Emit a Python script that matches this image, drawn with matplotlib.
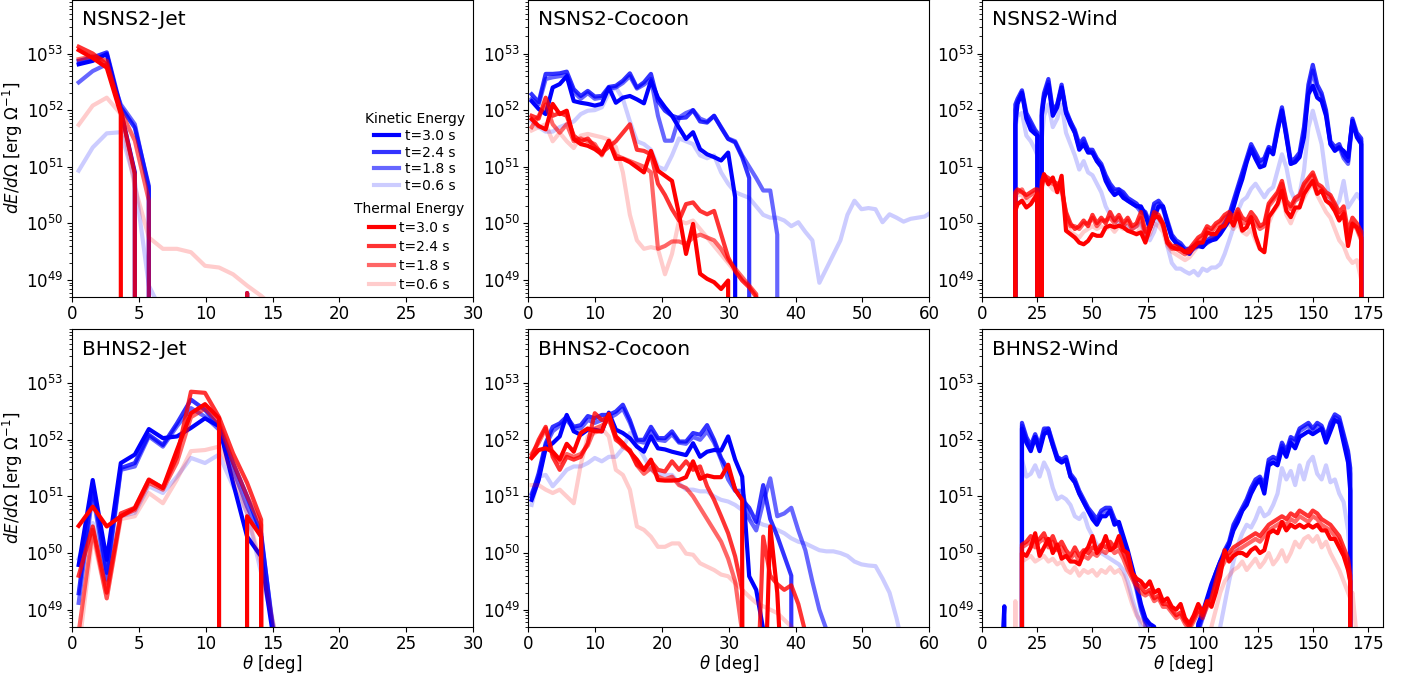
import numpy as np
import matplotlib
matplotlib.use('Agg')
import matplotlib.pyplot as plt

Z = -np.inf  # empty bin (no energy), drops off the log axis

times = [3.0, 2.4, 1.8, 0.6]

# angle grids [deg]
theta_bins = np.round(0.5 + 1.05 * np.arange(58), 2)
theta_wind_ns = np.array([14, 15, 16, 18, 20, 22, 24, 25, 26, 27] + list(range(28, 173, 2)) + [173])
theta_wind_bh = np.array([8, 10, 12, 15, 17] + list(range(18, 167, 2)) + [167, 168, 170])

# log10(dE/dOmega), t = 3.0, 2.4, 1.8, 0.6 s
ns_jet_kin_30 = [52.81, 52.87, 52.99, 51.99, 50.9, Z]
ns_jet_kin_24 = [52.87, 52.93, 53.02, 52.05, 51.69, 50.66, Z, Z, Z, Z, Z, Z, 48.77, Z]
ns_jet_kin_18 = [52.49, 52.69, 52.81, 52.1, 51.75, 50.6, Z]
ns_jet_kin_06 = [50.93, 51.34, 51.59, 51.61, 50.75, 48.9, 48.4, Z]
ns_jet_th_30 = [53.06, 52.92, 52.75, 51.93, Z]
ns_jet_th_24 = [53.12, 53.0, 52.81, 51.99, 50.87, Z, Z, Z, Z, Z, Z, Z, 48.77, Z]
ns_jet_th_18 = [52.9, 52.95, 52.87, 51.99, 51.46, 50.4, Z]
ns_jet_th_06 = [51.74, 52.08, 52.22, 51.93, 50.64, 49.75, 49.55, 49.55, 49.49, 49.25, 49.22, 49.1, 48.9,
                48.72, 48.5, Z]

ns_coc_kin_30 = [52.16, 52.02, 51.93, 52.4, 52.46, 52.6, 52.16, 52.13, 52.11, 52.08, 52.11, 52.4, 52.13, 52.22,
                 52.25, 52.19, 52.12, 52.52, 52.22, 52.05, 51.9, 51.69, 51.49, 51.61, 51.31, 51.22, 51.17, 51.11,
                 51.25, 50.46, Z]
ns_coc_kin_24 = [52.28, 52.14, 52.64, 52.64, 52.65, 52.68, 52.37, 52.25, 52.34, 52.24, 52.25, 52.41, 52.43, 52.52,
                 52.65, 52.4, 52.49, 52.64, 52.16, 51.99, 51.9, 51.86, 51.87, 52.0, 51.8, 51.78, 51.9, 51.69,
                 51.49, 51.43, 51.17, 50.8, Z]
ns_coc_kin_18 = [52.2, 52.1, 52.55, 52.58, 52.6, 52.62, 52.32, 52.2, 52.3, 52.2, 52.22, 52.38, 52.4, 52.48, 52.6,
                 52.38, 52.45, 52.55, 51.9, 51.46, 51.46, 51.87, 51.95, 52.0, 51.85, 51.8, 51.9, 51.7, 51.5, 51.45,
                 51.2, 51.0, 50.8, 50.58, 50.58, 49.8, Z]
ns_coc_kin_06 = [51.8, 51.7, 51.62, 51.62, 51.7, 51.75, 51.8, 51.93, 51.99, 52.0, 52.05, 52.3, 52.4, 52.2, 51.8,
                 51.45, 51.4, 51.3, 51.0, 50.95, 51.2, 51.5, 51.45, 51.4, 51.2, 51.15, 51.2, 50.9, 50.7, 50.55,
                 50.5, 50.45, 50.3, 50.15, 50.1, 50.1, 50.05, 49.95, 50.02, 49.85, 49.7, 48.95, 49.2, 49.45, 49.7,
                 50.15, 50.4, 50.25, 50.27, 50.25, 50.02, 50.16, 50.1, 50.03, 50.08, 50.1, 50.12, 50.2]
ns_coc_th_30 = [51.84, 51.72, 51.66, 52.11, 51.93, 51.99, 51.49, 51.4, 51.37, 51.31, 51.22, 51.46, 51.14, 51.14,
                51.08, 50.99, 50.9, 51.28, 50.93, 50.84, 50.75, 50.16, 49.46, 49.99, 49.11, 49.02, 48.96, 48.84,
                48.99, Z]
ns_coc_th_24 = [51.9, 51.85, 52.22, 51.9, 51.95, 51.9, 51.55, 51.45, 51.5, 51.35, 51.25, 51.35, 51.45, 51.6, 51.75,
                51.3, 51.28, 51.22, 50.7, 50.5, 50.25, 50.05, 50.34, 50.37, 50.22, 50.16, 50.22, 49.81, 49.4, 49.16,
                48.99, 48.87, 48.7, Z]
ns_coc_th_18 = [51.7, 51.9, 52.1, 51.75, 51.6, 51.75, 51.45, 51.5, 51.45, 51.4, 51.2, 51.45, 51.2, 51.15, 51.1,
                51.05, 51.0, 50.9, 49.55, 49.6, 49.68, 49.68, 49.63, 49.75, 49.8, 49.75, 49.7, 49.55, 49.35, 49.2,
                49.05, 48.9, 48.75, Z]
ns_coc_th_06 = [51.64, 51.7, 51.75, 51.45, 51.6, 51.45, 51.33, 51.55, 51.58, 51.55, 51.52, 51.48, 51.35, 50.9,
                50.15, 49.7, 49.55, 49.58, 49.55, 49.1, 49.46, 50.05, 50.0, 50.05, 49.9, 49.75, 49.6, 49.45, 49.3,
                49.15, 49.0, 48.9, 48.75, Z]

ns_wind_kin_30 = [Z, 51.75, 52.11, 52.31, 51.85, 51.65, 51.58, 51.55, Z, 51.9,
                  52.2, 52.45, 51.9, 52.05, 52.4, 51.95, 51.75, 51.6, 51.3, 51.4, 51.25, 51.25, 51.1, 51.0, 50.75,
                  50.6, 50.5, 50.55,
                  50.45, 50.4, 50.35, 50.3, 50.3, 50.15, 49.9, 50.1, 50.3, 50.3, 50.0, 49.75, 49.65, 49.6, 49.5,
                  49.46, 49.58, 49.6,
                  49.58, 49.67, 49.7, 49.72, 49.81, 49.93, 50.05, 50.28, 50.55, 50.78, 51.08, 51.31, 51.14, 50.99,
                  51.02, 51.31, 51.22, 51.63,
                  51.99, 51.52, 51.05, 51.08, 51.17, 51.52, 52.28, 52.43, 52.22, 52.16, 51.9, 51.4, 51.28, 51.34,
                  51.28, 51.17, 51.81, 51.52, 51.4, Z]
ns_wind_kin_24 = [Z, 52.1, 52.2, 52.35, 51.95, 51.8, 51.65, 51.6, Z, 52.0,
                  52.3, 52.55, 52.0, 52.1, 52.45, 52.0, 51.8, 51.65, 51.4, 51.5, 51.3, 51.3, 51.15, 51.05, 50.85,
                  50.7, 50.6, 50.6,
                  50.55, 50.45, 50.4, 50.35, 50.25, 50.2, 50.0, 50.35, 50.4, 50.3, 50.05, 49.8, 49.7, 49.65, 49.55,
                  49.55, 49.6, 49.65,
                  49.65, 49.7, 49.75, 49.8, 49.9, 50.0, 50.15, 50.4, 50.65, 50.9, 51.15, 51.4, 51.25, 51.1, 51.15,
                  51.35, 51.3, 51.7,
                  52.05, 51.6, 51.1, 51.15, 51.25, 51.7, 52.45, 52.8, 52.45, 52.3, 52.0, 51.45, 51.35, 51.4, 51.2,
                  51.1, 51.85, 51.6, 51.5, Z]
ns_wind_kin_18 = [Z, 52.0, 52.15, 52.3, 51.9, 51.75, 51.6, 51.55, Z, 51.95,
                  52.25, 52.5, 51.95, 52.1, 52.4, 51.95, 51.8, 51.6, 51.35, 51.45, 51.3, 51.25, 51.1, 51.0, 50.8,
                  50.65, 50.55, 50.6,
                  50.5, 50.4, 50.35, 50.3, 50.2, 50.15, 49.95, 50.3, 50.35, 50.25, 50.0, 49.75, 49.65, 49.6, 49.5,
                  49.5, 49.55, 49.6,
                  49.6, 49.65, 49.7, 49.75, 49.85, 49.95, 50.1, 50.35, 50.6, 50.85, 51.1, 51.35, 51.2, 51.05, 51.1,
                  51.3, 51.25, 51.65,
                  52.0, 51.55, 51.05, 51.1, 51.2, 51.6, 52.35, 52.7, 52.35, 52.25, 51.95, 51.4, 51.3, 51.35, 51.15,
                  51.05, 51.8, 51.55, 51.45, Z]
ns_wind_kin_06 = [Z, 51.7, 51.9, 51.95, 51.55, 51.45, 51.3, 51.2, Z, 51.5,
                  51.9, 52.1, 51.7, 51.85, 52.1, 51.6, 51.4, 51.2, 50.95, 51.1, 50.9, 50.85, 50.7, 50.55, 50.3,
                  50.15, 50.05, 50.0,
                  49.95, 49.95, 49.9, 49.95, 50.0, 49.8, 49.7, 49.85, 50.1, 50.05, 49.6, 49.3, 49.2, 49.2, 49.15,
                  49.11, 49.16, 49.08,
                  49.2, 49.16, 49.22, 49.22, 49.28, 49.46, 49.69, 49.93, 50.22, 50.4, 50.46, 50.61, 50.7, 50.58,
                  50.46, 50.58, 50.64, 50.93,
                  51.22, 50.99, 50.58, 50.4, 50.52, 50.93, 51.69, 51.99, 51.69, 51.4, 50.81, 50.34, 50.28, 50.4,
                  50.75, 50.28, 50.4, 50.52, 50.4, Z]
ns_wind_th_30 = [Z, 50.22, 50.34, 50.4, 50.28, 50.34, 50.46, 50.52, Z, 50.64,
                 50.87, 50.69, 50.81, 50.55, 50.84, 49.87, 49.81, 49.75, 49.66, 49.63, 49.69, 49.81, 49.78, 49.78,
                 49.93, 49.96, 49.93, 49.96,
                 49.93, 49.87, 49.84, 49.81, 49.84, 49.66, 49.9, 50.11, 50.11, 49.99, 49.66, 49.58, 49.55, 49.55,
                 49.49, 49.49, 49.58, 49.66,
                 49.66, 49.84, 49.81, 49.81, 49.93, 49.96, 50.11, 49.96, 50.17, 49.87, 49.93, 50.11, 49.78, 49.55,
                 49.49, 50.11, 50.22, 50.34,
                 50.58, 50.22, 50.11, 50.28, 50.28, 50.52, 50.64, 50.75, 50.52, 50.58, 50.4, 50.34, 50.22, 50.05,
                 50.17, 49.6, 49.99, 49.93, 49.75, Z]
ns_wind_th_24 = [Z, 50.55, 50.6, 50.55, 50.5, 50.55, 50.6, 50.6, Z, 50.75,
                 50.85, 50.8, 50.75, 50.7, 50.6, 50.2, 50.0, 49.9, 49.95, 50.05, 49.95, 50.15, 50.0, 50.1, 50.0,
                 50.2, 50.05, 50.15,
                 50.0, 50.1, 49.95, 50.0, 50.2, 49.85, 49.95, 50.2, 50.15, 50.0, 49.7, 49.6, 49.6, 49.55, 49.5,
                 49.55, 49.65, 49.75,
                 49.8, 49.95, 49.9, 50.0, 50.05, 50.15, 50.2, 50.1, 50.25, 50.1, 50.05, 50.2, 50.1, 49.95, 50.0,
                 50.35, 50.45, 50.55,
                 50.75, 50.4, 50.3, 50.45, 50.5, 50.7, 50.8, 50.9, 50.7, 50.65, 50.55, 50.5, 50.35, 50.2, 50.3,
                 49.85, 50.1, 50.0, 49.85, Z]
ns_wind_th_18 = [Z, 50.5, 50.55, 50.6, 50.45, 50.5, 50.55, 50.55, Z, 50.7,
                 50.8, 50.75, 50.7, 50.65, 50.65, 50.15, 49.95, 49.95, 49.9, 50.0, 50.0, 50.1, 49.95, 50.05, 50.05,
                 50.1, 50.0, 50.1,
                 49.95, 50.05, 49.9, 49.95, 50.1, 49.8, 49.9, 50.15, 50.1, 49.95, 49.65, 49.55, 49.55, 49.5, 49.45,
                 49.5, 49.6, 49.7,
                 49.75, 49.9, 49.85, 49.95, 50.0, 50.1, 50.15, 50.05, 50.2, 50.0, 50.0, 50.1, 50.0, 49.9, 49.95,
                 50.3, 50.4, 50.5,
                 50.7, 50.35, 50.25, 50.4, 50.45, 50.65, 50.75, 50.85, 50.65, 50.6, 50.5, 50.45, 50.3, 50.1, 50.2,
                 49.75, 50.0, 49.9, 49.7, Z]
ns_wind_th_06 = [Z, 50.45, 50.5, 50.5, 50.4, 50.4, 50.45, 50.45, Z, 50.6,
                 50.75, 50.7, 50.6, 50.55, 50.55, 50.05, 49.85, 49.8, 49.75, 49.85, 49.9, 49.95, 49.9, 49.95, 49.9,
                 49.95, 49.85, 49.95,
                 49.9, 49.95, 49.85, 49.8, 49.95, 49.75, 49.8, 50.0, 49.95, 49.85, 49.6, 49.5, 49.45, 49.4, 49.35,
                 49.4, 49.5, 49.6,
                 49.7, 49.8, 49.75, 49.85, 49.9, 49.95, 50.0, 49.9, 50.0, 49.85, 49.8, 49.9, 49.7, 49.55, 49.5,
                 50.0, 50.2, 50.3,
                 50.5, 50.15, 50.0, 50.2, 50.3, 50.45, 50.6, 50.7, 50.5, 50.35, 50.2, 50.1, 49.9, 49.7, 49.6, 49.4,
                 49.3, 49.35, 49.0, Z]

bh_jet_kin_30 = [49.79, 51.29, 49.88, 51.59, 51.74, 52.19, 52.03, 52.06, 52.21, 52.38, 52.24, 51.24, 50.29, 49.94,
                 48.3, Z]
bh_jet_kin_24 = [49.29, 51.18, 49.65, 51.5, 51.59, 52.09, 51.91, 52.29, 52.71, 52.53, 52.24, 51.59, 51.0, 50.35,
                 48.3, Z]
bh_jet_kin_18 = [49.12, 51.06, 49.53, 51.47, 51.53, 52.06, 51.88, 52.24, 52.56, 52.41, 52.18, 51.47, 50.82, 50.29,
                 48.4, Z]
bh_jet_kin_06 = [49.9, 50.53, 49.47, 50.65, 50.71, 51.18, 51.06, 51.35, 51.68, 51.59, 51.74, 51.18, 50.71, 49.65,
                 48.6, Z]
bh_jet_th_30 = [50.48, 50.82, 50.47, 50.65, 50.79, 51.29, 51.15, 51.82, 52.47, 52.63, 52.38, Z, 50.65, 50.29, Z]
bh_jet_th_24 = [49.6, 50.47, 49.3, 50.7, 50.8, 51.3, 51.15, 51.7, 52.85, 52.83, 52.4, 51.76, 51.24, 50.59, Z]
bh_jet_th_18 = [48.6, 50.41, 49.2, 50.65, 50.76, 51.24, 51.12, 51.6, 52.4, 52.55, 52.3, 51.6, 51.0, 50.5, Z]
bh_jet_th_06 = [48.3, 50.3, 49.2, 50.6, 50.65, 51.06, 50.88, 51.3, 51.8, 51.82, 51.88, 51.4, 50.7, 49.8, 48.6, Z]

bh_coc_kin_30 = [50.94, 51.29, 51.85, 51.94, 52.06, 52.44, 52.15, 52.09, 52.18, 52.18, 52.15, 52.48, 52.18, 52.12,
                 52.03, 51.88, 51.79, 52.06, 51.85, 51.83, 51.79, 51.76, 51.73, 51.94, 51.7, 51.79, 51.82, 51.81,
                 52.06, 51.65, 51.35, 49.59, 49.35, 48.65, Z]
bh_coc_kin_24 = [51.0, 51.41, 51.94, 52.23, 52.29, 52.41, 52.23, 52.26, 52.42, 52.38, 52.44, 52.44, 52.5, 52.62,
                 52.35, 52.0, 52.0, 52.23, 52.03, 52.03, 52.15, 51.97, 51.97, 52.12, 52.09, 52.26, 52.0, 51.68,
                 51.47, 51.12, 50.94, 50.8, 50.55, 51.2, 50.6, 50.3, 49.95, 49.6, Z]
bh_coc_kin_18 = [51.05, 51.35, 51.9, 52.15, 52.25, 52.35, 52.2, 52.2, 52.35, 52.3, 52.35, 52.38, 52.45, 52.55, 52.3,
                 51.98, 51.95, 52.15, 52.0, 51.98, 52.1, 51.95, 51.93, 52.05, 52.0, 52.15, 51.95, 51.65, 51.3, 51.1,
                 51.1, 50.6, 50.4, 50.9, 51.32, 50.65, 50.7, 50.8, 50.4, 50.05, 49.5, 49.0, 48.65, Z]
bh_coc_kin_06 = [50.85, 51.35, 51.38, 51.18, 51.32, 51.47, 51.53, 51.53, 51.59, 51.68, 51.62, 51.7, 51.7, 51.85,
                 52.12, 51.91, 51.7, 51.47, 51.41, 51.38, 51.38, 51.23, 51.12, 51.12, 51.09, 51.09, 51.0, 50.94,
                 50.91, 50.85, 50.76, 50.62, 50.56, 50.5, 50.47, 50.41, 50.35, 50.26, 50.2, 50.17, 50.11, 50.05,
                 50.03, 50.03, 50.0, 49.95, 49.85, 49.8, 49.78, 49.77, 49.55, 49.3, 48.85, 48.3, Z]
bh_coc_th_30 = [51.68, 51.82, 51.85, 51.79, 51.65, 51.93, 51.79, 52.12, 52.2, 52.15, 52.15, 52.46, 52.06, 51.94,
                51.79, 51.65, 51.47, 51.65, 51.29, 51.28, 51.28, 51.29, 51.34, 51.62, 51.31, 51.37, 51.34, 51.34,
                51.56, 51.12, 50.94, Z, Z, 46.5, 50.47, 49.3, 47.0, Z]
bh_coc_th_24 = [51.7, 52.0, 52.23, 51.7, 51.47, 51.7, 51.65, 51.7, 51.94, 52.47, 52.35, 52.41, 52.0, 51.91, 51.82,
                51.56, 51.47, 51.62, 51.47, 51.44, 51.62, 51.47, 51.62, 51.47, 51.53, 51.18, 50.94, 50.65, 50.35,
                49.94, 49.35, Z, 47.0, 50.29, 49.6, 49.45, 49.35, 49.43, 49.1, 48.6, Z]
bh_coc_th_18 = [51.75, 51.95, 52.2, 51.75, 51.6, 51.75, 51.7, 51.75, 51.9, 52.2, 52.25, 52.35, 52.05, 51.88, 51.8,
                51.55, 51.4, 51.5, 51.35, 51.3, 51.35, 51.2, 51.15, 51.0, 50.8, 50.6, 50.4, 50.2, 49.9, 49.5, 48.6, Z]
bh_coc_th_06 = [51.2, 51.2, 51.12, 51.06, 51.12, 51.0, 50.88, 51.56, 52.06, 52.12, 52.2, 52.06, 51.47, 51.38, 51.12,
                50.47, 50.41, 50.29, 50.11, 50.11, 50.17, 50.17, 49.99, 49.97, 49.82, 49.76, 49.7, 49.62, 49.59,
                49.47, 49.35, 49.23, 49.12, 49.06, 49.0, 48.94, 48.82, 48.7, 48.59, Z]

bh_wind_kin_30 = [47.5, 49.06, Z, Z, Z,
                  52.2, 51.95, 51.8, 52.05, 51.8, 52.1, 52.15, 51.9, 51.65, 51.6, 51.65, 51.35, 51.25, 51.05, 50.9,
                  50.75, 50.6, 50.5,
                  50.65, 50.65, 50.75, 50.5, 50.55, 50.3, 50.05, 49.75, 49.45, 49.1, 48.85, 48.75, 48.7, Z, Z, Z,
                  Z, Z,
                  Z, Z, Z, 47.5, 48.75, 48.95, 49.2, 49.45, 49.65, 49.85, 50.0, 50.15, 50.4, 50.55, 50.75, 50.85,
                  51.05, 51.2,
                  51.3, 51.05, 51.55, 51.6, 51.55, 51.85, 51.7, 51.95, 51.85, 52.05, 52.1, 52.15, 52.1, 52.15,
                  52.2, 51.95, 52.15, 52.35, 52.3, 51.95, 51.6,
                  51.1, Z, Z]
bh_wind_kin_24 = [Z, Z, Z, Z, Z,
                  52.3, 52.05, 51.9, 52.1, 51.9, 52.2, 52.2, 51.95, 51.7, 51.65, 51.7, 51.4, 51.3, 51.1, 50.95,
                  50.8, 50.7, 50.6,
                  50.75, 50.8, 50.8, 50.6, 50.5, 50.25, 50.0, 49.7, 49.4, 49.05, 48.8, 48.65, Z, Z, Z, Z, Z, Z,
                  Z, Z, Z, Z, 48.65, 48.9, 49.15, 49.4, 49.65, 49.85, 50.05, 50.2, 50.5, 50.65, 50.8, 50.95, 51.15,
                  51.3,
                  51.35, 51.2, 51.65, 51.7, 51.65, 51.95, 51.8, 52.05, 52.0, 52.2, 52.25, 52.3, 52.2, 52.3, 52.25,
                  52.05, 52.3, 52.45, 52.4, 52.1, 51.8,
                  51.5, Z, Z]
bh_wind_kin_18 = [Z, Z, Z, Z, Z,
                  52.25, 52.0, 51.85, 52.05, 51.85, 52.15, 52.2, 51.9, 51.7, 51.6, 51.65, 51.35, 51.25, 51.05,
                  50.9, 50.75, 50.65, 50.55,
                  50.7, 50.75, 50.75, 50.55, 50.5, 50.2, 49.95, 49.65, 49.35, 49.0, 48.75, Z, Z, Z, Z, Z, Z, Z,
                  Z, Z, Z, Z, 48.6, 48.85, 49.1, 49.35, 49.6, 49.8, 50.0, 50.15, 50.45, 50.6, 50.75, 50.9, 51.1,
                  51.25,
                  51.3, 51.15, 51.6, 51.65, 51.6, 51.9, 51.75, 52.0, 51.95, 52.15, 52.2, 52.25, 52.15, 52.25, 52.2,
                  52.0, 52.25, 52.4, 52.35, 52.05, 51.75,
                  51.4, Z, Z]
bh_wind_kin_06 = [Z, Z, Z, Z, Z,
                  51.65, 51.35, 51.4, 51.55, 51.35, 51.6, 51.45, 51.15, 50.95, 51.0, 50.95, 50.85, 50.65, 50.6,
                  50.7, 50.45, 50.3, 50.15,
                  50.0, 49.95, 49.9, 49.85, 49.8, 49.7, 49.5, 49.2, 48.95, 48.7, Z, Z, Z, Z, Z, Z, Z, Z,
                  Z, Z, Z, Z, Z, Z, Z, Z, Z, 48.7, 49.1, 49.5, 49.85, 50.15, 50.35, 50.5, 50.45, 50.6,
                  50.8, 50.65, 50.7, 50.85, 51.05, 51.5, 51.3, 51.45, 51.2, 51.55, 51.3, 51.6, 51.7, 51.4, 51.3,
                  51.55, 51.25, 51.3, 51.05, 50.9, 50.4,
                  49.8, Z, Z]
bh_wind_th_30 = [Z, Z, Z, Z, Z,
                 50.0, 49.95, 50.1, 50.35, 49.95, 50.1, 50.25, 50.0, 50.15, 49.9, 49.95, 49.85, 49.85, 49.8, 50.0,
                 50.1, 50.3, 50.0,
                 50.1, 50.3, 50.05, 50.1, 50.3, 50.05, 50.0, 49.65, 49.55, 49.5, 49.4, 49.5, 49.3, 49.35, 49.15,
                 49.2, 49.05, 49.0,
                 49.1, 48.85, 48.75, 48.9, 49.1, 48.95, 49.15, 49.05, 49.3, 49.6, 50.05, 49.85, 49.95, 50.0, 50.0,
                 49.95, 50.05, 50.1,
                 50.0, 50.05, 50.35, 50.4, 50.35, 50.55, 50.4, 50.5, 50.45, 50.5, 50.45, 50.5, 50.45, 50.5, 50.4,
                 50.4, 50.25, 50.25, 50.1, 49.95, 49.7,
                 49.5, Z, Z]
bh_wind_th_24 = [Z, Z, Z, Z, Z,
                 50.15, 50.2, 50.3, 50.2, 50.25, 50.35, 50.15, 50.3, 50.1, 50.2, 50.05, 49.95, 50.1, 49.95, 50.05,
                 50.0, 50.1, 50.05,
                 50.15, 50.1, 50.2, 50.1, 50.15, 50.0, 49.8, 49.6, 49.45, 49.4, 49.3, 49.35, 49.2, 49.25, 49.1,
                 49.1, 49.0, 48.9,
                 48.95, 48.8, 48.7, 48.85, 49.0, 48.9, 49.1, 49.2, 49.5, 49.8, 49.95, 50.0, 50.1, 50.15, 50.2,
                 50.25, 50.3, 50.35,
                 50.3, 50.4, 50.5, 50.55, 50.6, 50.65, 50.6, 50.7, 50.65, 50.75, 50.7, 50.65, 50.75, 50.7, 50.6,
                 50.55, 50.5, 50.4, 50.3, 50.1, 49.9,
                 49.6, Z, Z]
bh_wind_th_18 = [Z, Z, Z, Z, Z,
                 50.1, 50.15, 50.2, 50.1, 50.2, 50.25, 50.1, 50.2, 50.05, 50.1, 49.95, 49.9, 50.0, 49.85, 49.95,
                 49.9, 50.0, 49.95,
                 50.05, 50.0, 50.1, 50.0, 50.05, 49.9, 49.7, 49.55, 49.4, 49.3, 49.25, 49.3, 49.15, 49.2, 49.05,
                 49.05, 48.95, 48.85,
                 48.9, 48.75, 48.65, 48.8, 48.95, 48.85, 49.05, 49.15, 49.4, 49.7, 49.85, 49.95, 50.0, 50.05, 50.1,
                 50.15, 50.2, 50.25,
                 50.2, 50.3, 50.4, 50.45, 50.5, 50.55, 50.5, 50.6, 50.55, 50.65, 50.6, 50.55, 50.65, 50.6, 50.5,
                 50.45, 50.4, 50.3, 50.2, 50.0, 49.8,
                 49.5, Z, Z]
bh_wind_th_06 = [Z, Z, Z, 49.15, Z,
                 49.85, 49.9, 49.95, 49.85, 49.9, 49.95, 49.85, 49.9, 49.8, 49.85, 49.7, 49.65, 49.75, 49.6, 49.7,
                 49.65, 49.7, 49.6,
                 49.7, 49.65, 49.75, 49.65, 49.7, 49.6, 49.35, 49.1, 48.9, 48.8, 48.7, Z, Z, Z, Z, Z, Z, Z,
                 Z, Z, Z, Z, Z, Z, Z, 48.7, 49.0, 49.3, 49.5, 49.6, 49.7, 49.75, 49.85, 49.7, 49.8, 49.9,
                 49.75, 49.85, 50.0, 49.8, 49.9, 50.05, 49.85, 50.0, 50.2, 50.1, 50.25, 50.3, 50.2, 50.3, 50.1,
                 50.2, 50.0, 49.85, 49.7, 49.5, 49.3,
                 49.2, 49.3, 48.5]

panels = [
    (0, 0, 'NSNS2-Jet', theta_bins, [ns_jet_kin_30, ns_jet_kin_24, ns_jet_kin_18, ns_jet_kin_06],
     [ns_jet_th_30, ns_jet_th_24, ns_jet_th_18, ns_jet_th_06], 30, 5),
    (0, 1, 'NSNS2-Cocoon', theta_bins, [ns_coc_kin_30, ns_coc_kin_24, ns_coc_kin_18, ns_coc_kin_06],
     [ns_coc_th_30, ns_coc_th_24, ns_coc_th_18, ns_coc_th_06], 60, 10),
    (0, 2, 'NSNS2-Wind', theta_wind_ns, [ns_wind_kin_30, ns_wind_kin_24, ns_wind_kin_18, ns_wind_kin_06],
     [ns_wind_th_30, ns_wind_th_24, ns_wind_th_18, ns_wind_th_06], 182, 25),
    (1, 0, 'BHNS2-Jet', theta_bins, [bh_jet_kin_30, bh_jet_kin_24, bh_jet_kin_18, bh_jet_kin_06],
     [bh_jet_th_30, bh_jet_th_24, bh_jet_th_18, bh_jet_th_06], 30, 5),
    (1, 1, 'BHNS2-Cocoon', theta_bins, [bh_coc_kin_30, bh_coc_kin_24, bh_coc_kin_18, bh_coc_kin_06],
     [bh_coc_th_30, bh_coc_th_24, bh_coc_th_18, bh_coc_th_06], 60, 10),
    (1, 2, 'BHNS2-Wind', theta_wind_bh, [bh_wind_kin_30, bh_wind_kin_24, bh_wind_kin_18, bh_wind_kin_06],
     [bh_wind_th_30, bh_wind_th_24, bh_wind_th_18, bh_wind_th_06], 182, 25),
]

fig = plt.figure(figsize=(14.13, 6.77), dpi=100)
lefts = [72 / 1413, 528.3 / 1413, 982.3 / 1413]
bottoms = [1 - 297 / 677, 1 - 626.7 / 677]
width, height = 401 / 1413, 297.5 / 677

for row, col, name, theta, kin, th, xmax, xstep in panels:
    ax = fig.add_axes([lefts[col], bottoms[row], width, height])
    ax.set_yscale('log')
    kin_lines, th_lines = [], []
    for t, v in zip(times, kin):
        l, = ax.plot(theta[:len(v)], 10.0 ** np.array(v), color='blue', alpha=t / 3.0, lw=3,
                     label='t={:.1f} s'.format(t))
        kin_lines.append(l)
    for t, v in zip(times, th):
        l, = ax.plot(theta[:len(v)], 10.0 ** np.array(v), color='red', alpha=t / 3.0, lw=3,
                     label='t={:.1f} s'.format(t))
        th_lines.append(l)
    ax.set_xlim(0, xmax)
    ax.set_ylim(5e48, 9e53)
    ax.set_xticks(np.arange(0, xmax, xstep) if xmax == 182 else np.arange(0, xmax + 1, xstep))
    ax.set_yticks([1e49, 1e50, 1e51, 1e52, 1e53])
    ax.tick_params(labelsize=12, pad=2.5)
    ax.text(0.025, 0.965, name, transform=ax.transAxes, va='top', ha='left', fontsize=14.5)
    if col == 0:
        ax.set_ylabel(r'$dE/d\Omega$ [erg $\Omega^{-1}$]', fontsize=12, labelpad=1)
    if row == 1:
        ax.set_xlabel(r'$\theta$ [deg]', fontsize=12, labelpad=0)
    if row == 0 and col == 0:
        leg1 = ax.legend(handles=kin_lines, title='Kinetic Energy', loc='upper right',
                         bbox_to_anchor=(1.0, 0.65), frameon=False, fontsize=10, title_fontsize=10,
                         handlelength=1.8, handletextpad=0.4, labelspacing=0.2, borderaxespad=0.2)
        ax.add_artist(leg1)
        ax.legend(handles=th_lines, title='Thermal Energy', loc='lower right',
                  bbox_to_anchor=(1.0, -0.01), frameon=False, fontsize=10, title_fontsize=10,
                  handlelength=1.8, handletextpad=0.4, labelspacing=0.35, borderaxespad=0.2)

fig.savefig('out.png', dpi=100)
